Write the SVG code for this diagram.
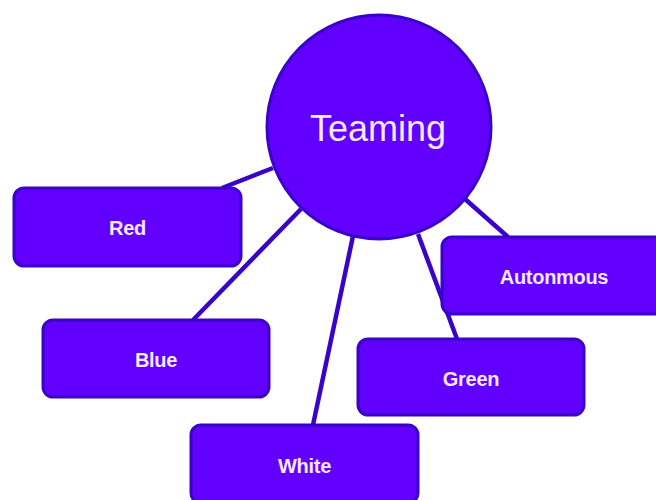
<svg xmlns="http://www.w3.org/2000/svg" width="656" height="500" viewBox="0 0 656 500">
  <style>
    .edge { stroke: #3a04c8; stroke-width: 4.5; stroke-linecap: butt; fill: none; }
    .box { fill: #6100fe; stroke: #3a04c8; stroke-width: 3; }
    .hub { fill: #6100fe; stroke: #3a04c8; stroke-width: 3; }
    .lbl { font-family: "Liberation Sans", Arial, sans-serif; font-weight: bold; font-size: 20px; letter-spacing: -0.3px; fill: #f6e8ff; text-anchor: middle; dominant-baseline: central; }
    .title { font-family: "Liberation Sans", Arial, sans-serif; font-size: 36px; fill: #f6e8ff; text-anchor: middle; dominant-baseline: central; }
  </style>
  <rect width="656" height="500" fill="#ffffff"/>

  <!-- connectors from the hub to each team -->
  <g id="connectors">
    <line class="edge" x1="273" y1="168" x2="222" y2="188"/>
    <line class="edge" x1="301" y1="209" x2="193" y2="320"/>
    <line class="edge" x1="353" y1="236" x2="313" y2="425"/>
    <line class="edge" x1="418" y1="234" x2="457" y2="339"/>
    <line class="edge" x1="465" y1="199" x2="508" y2="237"/>
  </g>

  <g id="teaming">
    <circle class="hub" cx="379" cy="127" r="112"/>
    <text class="title" x="378" y="128">Teaming</text>
  </g>

  <g id="red">
    <rect class="box" x="14" y="188" width="227" height="78" rx="10"/>
    <text class="lbl" x="127.5" y="228">Red</text>
  </g>

  <g id="blue">
    <rect class="box" x="43" y="320" width="226" height="77" rx="10"/>
    <text class="lbl" x="156" y="360">Blue</text>
  </g>

  <g id="white">
    <rect class="box" x="191" y="425" width="227" height="78" rx="10"/>
    <text class="lbl" x="304.5" y="466">White</text>
  </g>

  <g id="green">
    <rect class="box" x="358" y="339" width="226" height="76" rx="10"/>
    <text class="lbl" x="471" y="379">Green</text>
  </g>

  <g id="autonmous">
    <rect class="box" x="442" y="237" width="227" height="77" rx="10"/>
    <text class="lbl" x="554" y="277">Autonmous</text>
  </g>
</svg>
